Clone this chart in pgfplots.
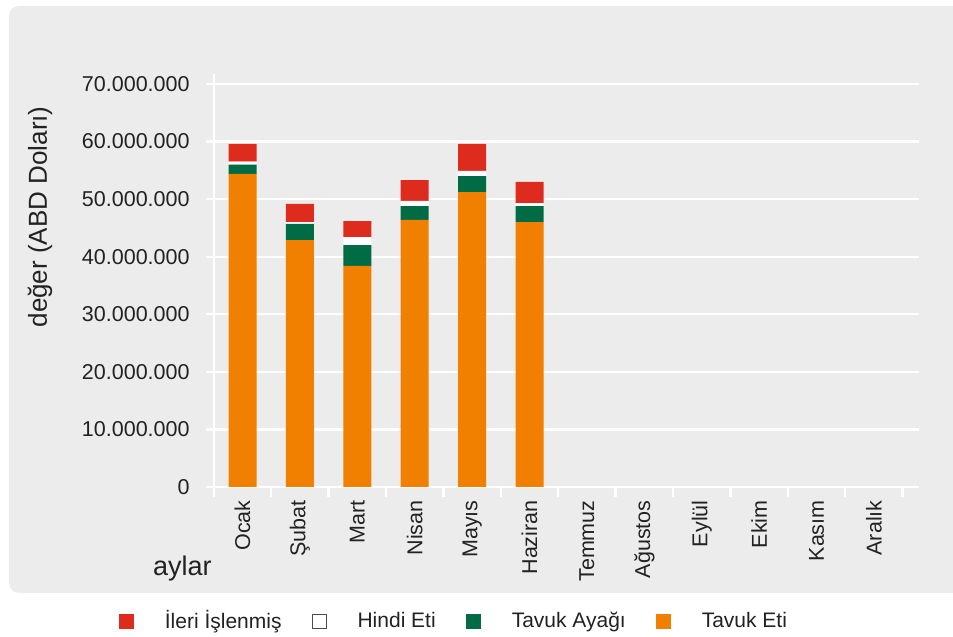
\documentclass[border=0pt]{standalone}
\usepackage{fontspec}
\setmainfont{Liberation Sans}
\usepackage{pgfplots}
\pgfplotsset{compat=1.18}
\definecolor{bgpanel}{HTML}{EBECEB}
\definecolor{cred}{HTML}{DD2C1E}
\definecolor{cgreen}{HTML}{006C45}
\definecolor{corange}{HTML}{F18000}
\definecolor{ctext}{HTML}{222222}
\begin{document}
\begin{tikzpicture}
\path[use as bounding box, fill=white] (0pt,0pt) rectangle (476.5pt,318.5pt);
\fill[bgpanel, rounded corners=5pt] (4.5pt,22pt) rectangle (490pt,315.5pt);
\begin{axis}[
  at={(106.9pt,75pt)}, anchor=south west,
  scale only axis, width=352.75pt, height=206.5pt,
  xmin=-0.5, xmax=11.79, ymin=0, ymax=71740000,
  ybar stacked, bar width=14pt,
  axis lines=left,
  axis line style={white, line width=1.2pt, -},
  ymajorgrids, major grid style={white, line width=1.2pt},
  ytick={0,10000000,20000000,30000000,40000000,50000000,60000000,70000000},
  scaled y ticks=false,
  /pgf/number format/assume math mode=true,
  /pgf/number format/fixed,
  /pgf/number format/1000 sep={.},
  xtick={0,...,11},
  xticklabels={Ocak,Şubat,Mart,Nisan,Mayıs,Haziran,Temmuz,Ağustos,Eylül,Ekim,Kasım,Aralık},
  minor xtick={-0.5,0.5,...,11.5},
  tick align=outside,
  major tick length=4pt, minor tick length=5pt,
  tick style={white, line width=1.2pt},
  every major x tick/.append style={draw=none},
  ticklabel style={font=\fontsize{10.75pt}{12pt}\selectfont, text=ctext},
  xticklabel style={rotate=90, anchor=east, inner sep=0pt},
  yticklabel style={anchor=east, inner sep=0pt, xshift=-7.9pt},
  xticklabel shift=2.5pt,
  ylabel={değer (ABD Doları)},
  ylabel style={at={(rel axis cs:-0.2463,0.654)}, anchor=center,
    font=\fontsize{13pt}{15pt}\selectfont, text=ctext},
  xlabel={aylar},
  xlabel style={at={(rel axis cs:-0.0026,-0.2131)}, anchor=base east, inner sep=0pt,
    font=\fontsize{13.5pt}{15pt}\selectfont, text=ctext},
  reverse legend,
  legend columns=4,
  legend style={at={(rel axis cs:-0.1436,-0.3245)}, anchor=west, draw=none, fill=none,
    font=\fontsize{10.5pt}{12pt}\selectfont, text=ctext,
    nodes={inner sep=0pt},
    /tikz/every even column/.append style={column sep=15pt},
    /tikz/every odd column/.append style={column sep=15.5pt}},
]
\addplot[fill=corange, draw=none,
  legend image code/.code={\fill[corange] (0pt,-3.75pt) rectangle (7.5pt,3.75pt);}]
  coordinates {(0,54400000) (1,42900000) (2,38400000) (3,46400000) (4,51200000) (5,46000000)};
\addplot[fill=cgreen, draw=none,
  legend image code/.code={\fill[cgreen] (0pt,-3.75pt) rectangle (7.5pt,3.75pt);}]
  coordinates {(0,1600000) (1,2800000) (2,3600000) (3,2400000) (4,2800000) (5,2800000)};
\addplot[fill=white, draw=none,
  legend image code/.code={\draw[fill=white, draw=black!70, line width=0.5pt] (0.25pt,-3.5pt) rectangle (7.25pt,3.5pt);}]
  coordinates {(0,500000) (1,300000) (2,1400000) (3,900000) (4,900000) (5,500000)};
\addplot[fill=cred, draw=none,
  legend image code/.code={\fill[cred] (0pt,-3.75pt) rectangle (7.5pt,3.75pt);}]
  coordinates {(0,3100000) (1,3200000) (2,2800000) (3,3600000) (4,4700000) (5,3700000)};
\legend{Tavuk Eti, Tavuk Ayağı, Hindi Eti, İleri İşlenmiş}
\end{axis}
\end{tikzpicture}
\end{document}
